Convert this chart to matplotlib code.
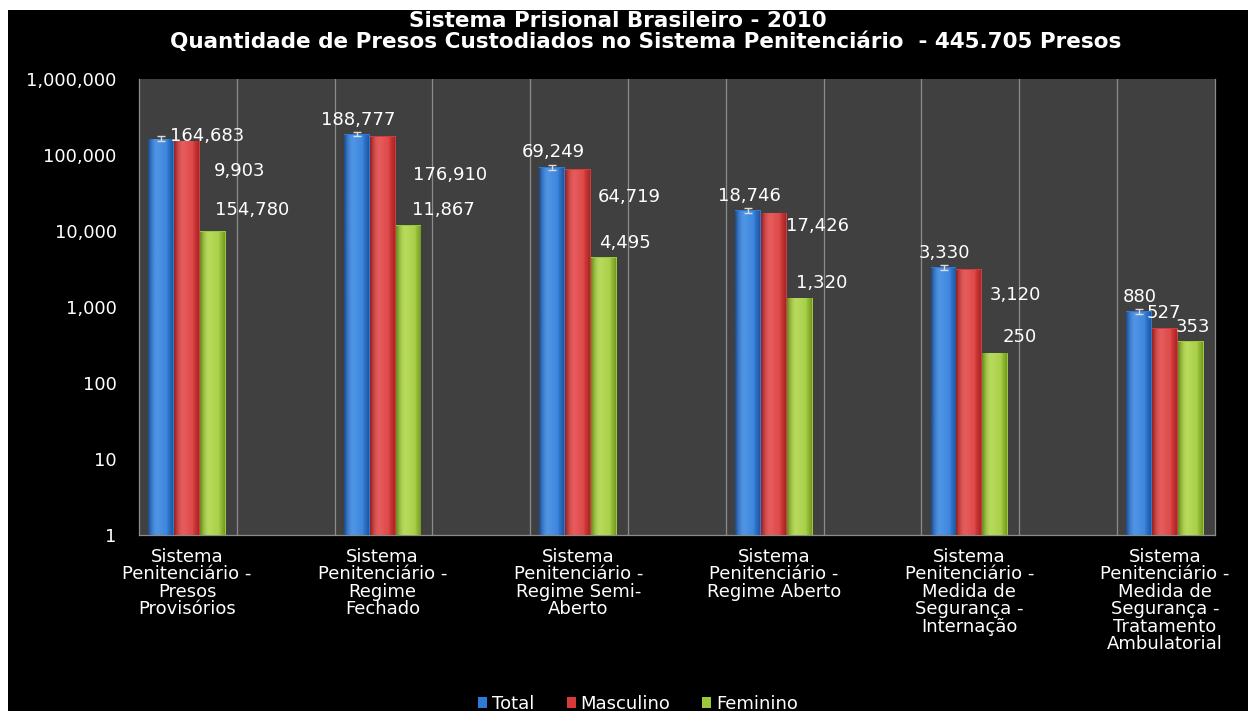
import matplotlib
matplotlib.use("Agg")
import matplotlib.pyplot as plt
from matplotlib.patches import Rectangle
from matplotlib.colors import to_rgb
import numpy as np

# ---------------- data ----------------
title_line1 = "Sistema Prisional Brasileiro - 2010"
title_line2 = "Quantidade de Presos Custodiados no Sistema Penitenciário  - 445.705 Presos"

categories = [
    "Sistema\nPenitenciário -\nPresos\nProvisórios",
    "Sistema\nPenitenciário -\nRegime\nFechado",
    "Sistema\nPenitenciário -\nRegime Semi-\nAberto",
    "Sistema\nPenitenciário -\nRegime Aberto",
    "Sistema\nPenitenciário -\nMedida de\nSegurança -\nInternação",
    "Sistema\nPenitenciário -\nMedida de\nSegurança -\nTratamento\nAmbulatorial",
]
series_names = ["Total", "Masculino", "Feminino"]
total = [164683, 188777, 69249, 18746, 3330, 880]
masculino = [154780, 176910, 64719, 17426, 3120, 527]
feminino = [9903, 11867, 4495, 1320, 250, 353]
y_ticks = [1, 10, 100, 1000, 10000, 100000, 1000000]

# ---------------- style / layout ----------------
W, H = 1248, 711
colors = ["#2f7ad4", "#d63a3a", "#9ec83c"]
edge_cols = ["#1f4f95", "#982424", "#6c9020"]
light_cols = ["#4f95e6", "#e65c5c", "#b8da5c"]
# label offsets (pixels) from each bar's top, as placed in the reference
label_offsets = [
    [(46, 3), (1, 14), (1, 15), (1, 14), (1, 14), (1, 14)],
    [(65, -69), (67, -39), (51, -28), (44, -13), (46, -26), (-1, 15)],
    [(27, 60), (35, 15), (21, 14), (22, 15), (25, 16), (2, 14)],
]


def cylinder_strip(c_mid, c_edge, c_light, n=64):
    t = np.linspace(0, 1, n)
    mid, edge, light = (np.array(to_rgb(c)) for c in (c_mid, c_edge, c_light))
    out = np.zeros((1, n, 3))
    for k, tt in enumerate(t):
        if tt < 0.35:
            a = tt / 0.35
            col = edge * (1 - a) ** 2 + light * (1 - (1 - a) ** 2)
        else:
            a = (tt - 0.35) / 0.65
            col = light * (1 - a) + mid * a if a < 0.6 else mid * (1 - (a - 0.6) / 0.4) + edge * ((a - 0.6) / 0.4)
        out[0, k] = col
    return np.clip(out, 0, 1)


fig = plt.figure(figsize=(W / 100, H / 100), dpi=100, facecolor="black")
ax = fig.add_axes([139 / W, (H - 535) / H, 1076 / W, 456 / H])
ax.set_facecolor("#404040")

x = np.arange(len(categories))
bw = 0.132
values = [total, masculino, feminino]

ax.set_yscale("log")

# vertical gridlines every half category
for k in range(1, 11):
    ax.axvline(-0.2454 + 0.5 * k, color="#8c8c8c", lw=0.9, zorder=1)

containers = []
for j, (vals, name) in enumerate(zip(values, series_names)):
    c = ax.bar(x + (j - 1) * bw, vals, width=bw, color=colors[j],
               edgecolor="none", linewidth=0, label=name, zorder=3)
    containers.append(c)
    strip = cylinder_strip(colors[j], edge_cols[j], light_cols[j])
    for i, (rect, v) in enumerate(zip(c.patches, vals)):
        x0 = rect.get_x()
        im = ax.imshow(strip, extent=(x0, x0 + bw, 1, v), aspect="auto",
                       interpolation="bilinear", zorder=3.5)
        im.set_clip_path(rect)
        dx, dy = label_offsets[j][i]
        ax.annotate(f"{v:,}", xy=(x[i] + (j - 1) * bw, v), xytext=(dx, dy),
                    textcoords="offset pixels", ha="center", va="center",
                    color="white", fontsize=13, zorder=5)

# small caps on top of Total bars
tot = np.array(total, dtype=float)
ax.errorbar(x - bw, tot, yerr=[tot * 0.07, tot * 0.07], fmt="none",
            ecolor="#dddddd", elinewidth=1, capsize=3, zorder=4)

ax.set_ylim(1, 1e6)
ax.set_xlim(-0.2454, 5.2556)
ax.set_aspect("auto")
ax.set_yticks(y_ticks)
ax.set_yticklabels([f"{t:,}" for t in y_ticks])
ax.yaxis.set_minor_locator(matplotlib.ticker.NullLocator())
ax.set_xticks(x)
ax.set_xticklabels(categories, linespacing=0.97)
ax.tick_params(axis="y", length=0, colors="white", labelsize=13, pad=16)
ax.tick_params(axis="x", length=0, colors="white", labelsize=13, pad=9)

for s in ["left", "bottom", "right"]:
    ax.spines[s].set_color("#8c8c8c")
    ax.spines[s].set_linewidth(0.9)
ax.spines["top"].set_visible(False)

fig.text(618 / W, 1 - 21 / H, title_line1, ha="center", va="center",
         color="white", fontsize=15.5, fontweight="bold")
fig.text(646 / W, 1 - 42 / H, title_line2, ha="center", va="center",
         color="white", fontsize=15.5, fontweight="bold")

fig.legend(handles=containers, labels=series_names, loc="center",
           bbox_to_anchor=(638 / W, 1 - 704 / H), ncol=3, frameon=False,
           fontsize=13, labelcolor="white", handlelength=0.5,
           handleheight=0.5, handletextpad=0.25, columnspacing=1.8)

# white margins of the original screenshot
fig.add_artist(Rectangle((0, 0), 8 / W, 1, transform=fig.transFigure,
                         facecolor="white", edgecolor="none", zorder=20))
fig.add_artist(Rectangle((0, 1 - 10 / H), 1, 10 / H, transform=fig.transFigure,
                         facecolor="white", edgecolor="none", zorder=20))

fig.savefig("out.png", dpi=100, facecolor="black")
